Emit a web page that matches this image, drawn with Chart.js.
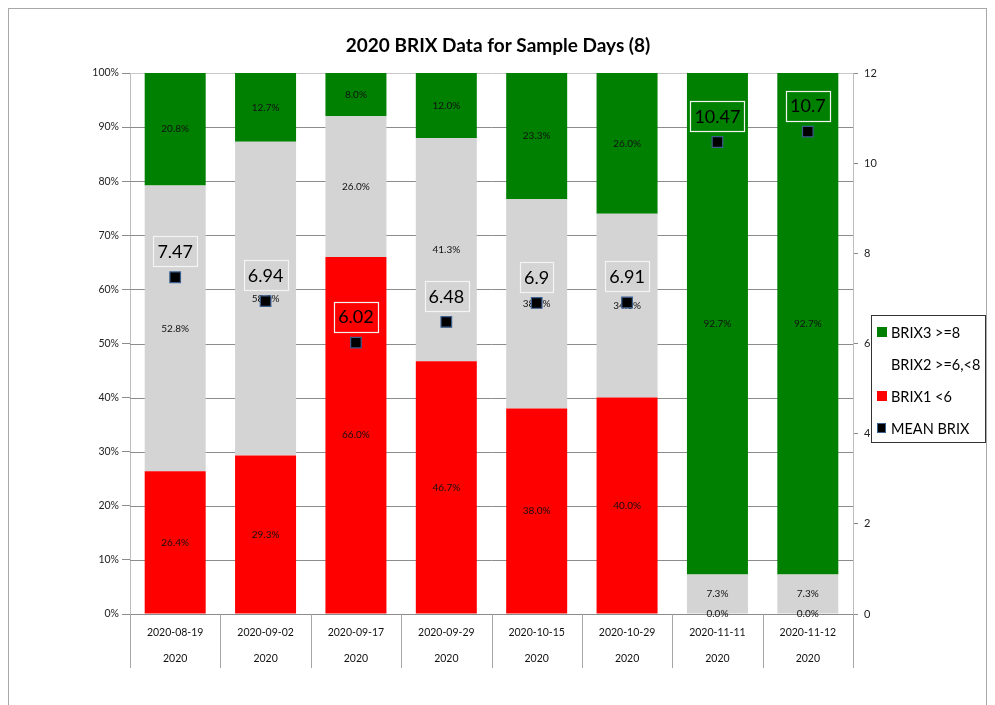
<!DOCTYPE html>
<html>
<head>
<meta charset="utf-8">
<script src="https://cdn.jsdelivr.net/npm/chart.js@4.4.1/dist/chart.umd.min.js"></script>
<style>
  html, body { margin: 0; padding: 0; background: #fff; overflow: hidden; }
  #wrap { position: relative; width: 995px; height: 705px; }
  #frame { position: absolute; left: 8px; top: 8px; width: 979px; height: 720px; border: 1px solid #a8a8a8; box-sizing: border-box; }
  canvas { position: absolute; left: 0; top: 0; }
</style>
</head>
<body>
<div id="wrap">
  <div id="frame"></div>
  <canvas id="myChart" width="995" height="705"></canvas>
</div>
<script>
/** Daten */
var categories = ['2020-08-19', '2020-09-02', '2020-09-17', '2020-09-29', '2020-10-15', '2020-10-29', '2020-11-11', '2020-11-12'];
var years = ['2020', '2020', '2020', '2020', '2020', '2020', '2020', '2020'];
var brix1 = [26.4, 29.3, 66.0, 46.7, 38.0, 40.0, 0.0, 0.0];
var brix2 = [52.8, 58.0, 26.0, 41.3, 38.7, 34.0, 7.3, 7.3];
var brix3 = [20.8, 12.7, 8.0, 12.0, 23.3, 26.0, 92.7, 92.7];
var meanBrix = [7.47, 6.94, 6.02, 6.48, 6.9, 6.91, 10.47, 10.7];
var titleText = '2020 BRIX Data for Sample Days (8)';

var FONT = "Lato, 'Open Sans', sans-serif";

/** Gitterlinien unter den Balken */
var gridUnder = {
  id: 'gridUnder',
  beforeDatasetsDraw: function(chart) {
    var ctx = chart.ctx;
    var y = chart.scales.y;
    var area = chart.chartArea;
    ctx.save();
    ctx.lineWidth = 1;
    y.ticks.forEach(function(t) {
      var py = Math.round(y.getPixelForValue(t.value)) + 0.5;
      ctx.strokeStyle = t.value === 100 ? '#c8c8c8' : '#8c8c8c';
      ctx.beginPath();
      ctx.moveTo(area.left, py);
      ctx.lineTo(area.right, py);
      ctx.stroke();
    });
    ctx.restore();
  }
};

/** Prozent-Beschriftungen in den Balken */
var segmentLabels = {
  id: 'segmentLabels',
  afterDatasetDraw: function(chart, args) {
    var ds = chart.data.datasets[args.index];
    if (ds.type === 'line') return;
    var ctx = chart.ctx;
    ctx.save();
    ctx.font = '10px ' + FONT;
    ctx.fillStyle = '#111';
    ctx.textAlign = 'center';
    ctx.textBaseline = 'middle';
    args.meta.data.forEach(function(bar, i) {
      var y = (bar.y + bar.base) / 2;
      ctx.fillText(ds.data[i].toFixed(1) + '%', bar.x, y);
    });
    ctx.restore();
  }
};

/** Titel, Mittelwert-Boxen, Achsenbeschriftung unten, Legende */
var extras = {
  id: 'extras',
  afterDraw: function(chart) {
    var ctx = chart.ctx;
    var x = chart.scales.x;
    var area = chart.chartArea;
    ctx.save();

    // Titel
    ctx.font = 'bold 19px ' + FONT;
    ctx.fillStyle = '#000';
    ctx.textAlign = 'center';
    ctx.textBaseline = 'middle';
    ctx.fillText(titleText, 498, 46);

    // Mittelwert-Boxen
    var meta = chart.getDatasetMeta(3);
    ctx.font = '18px ' + FONT;
    meta.data.forEach(function(pt, i) {
      var txt = String(meanBrix[i]);
      var w = ctx.measureText(txt).width + 8;
      var cy = pt.y - 26;
      ctx.strokeStyle = '#f4f4f4';
      ctx.lineWidth = 1.2;
      ctx.strokeRect(Math.round(pt.x - w / 2) + 0.5, Math.round(cy - 15) + 0.5, Math.round(w), 30);
      ctx.fillStyle = '#000';
      ctx.fillText(txt, pt.x, cy + 1);
    });

    // Kategorie-Trennlinien und zweizeilige Beschriftung
    var n = categories.length;
    var step = (x.right - x.left) / n;
    ctx.strokeStyle = '#a6a6a6';
    ctx.lineWidth = 1;
    for (var i = 0; i <= n; i++) {
      var lx = Math.round(x.left + i * step) + 0.5;
      ctx.beginPath();
      ctx.moveTo(lx, area.bottom);
      ctx.lineTo(lx, area.bottom + 54);
      ctx.stroke();
    }
    ctx.font = '10.5px ' + FONT;
    ctx.fillStyle = '#111';
    categories.forEach(function(c, i) {
      var cx = x.getPixelForValue(i);
      ctx.fillText(c, cx, area.bottom + 19);
      ctx.fillText(years[i], cx, area.bottom + 45);
    });

    // Legende
    var lx0 = 871, ly0 = 315, lw = 114, lh = 127;
    ctx.fillStyle = '#fff';
    ctx.fillRect(lx0, ly0, lw, lh);
    ctx.strokeStyle = '#333';
    ctx.lineWidth = 1;
    ctx.strokeRect(lx0 + 0.5, ly0 + 0.5, lw, lh);
    var items = [chart.data.datasets[2], chart.data.datasets[1], chart.data.datasets[0], chart.data.datasets[3]];
    ctx.font = '14.5px ' + FONT;
    ctx.textAlign = 'left';
    items.forEach(function(ds, k) {
      var iy = ly0 + 17 + k * 32;
      if (ds.type === 'line') {
        ctx.fillStyle = '#000';
        ctx.fillRect(877, iy - 5, 9, 10);
        ctx.strokeStyle = '#3b5f8f';
        ctx.strokeRect(877.5, iy - 4.5, 8, 9);
      } else if (ds.legendSwatch) {
        ctx.fillStyle = ds.legendSwatch;
        ctx.fillRect(877, iy - 5, 10, 10);
      }
      ctx.fillStyle = '#000';
      ctx.fillText(ds.label, 891, iy + 1);
    });

    ctx.restore();
  }
};

var ctx = document.getElementById('myChart').getContext('2d');
var myChart = new Chart(ctx, {
  type: 'bar',
  data: {
    labels: categories,
    datasets: [
      { label: 'BRIX1 <6', data: brix1, backgroundColor: '#ff0000', legendSwatch: '#ff0000', stack: 's', order: 1, yAxisID: 'y' },
      { label: 'BRIX2 >=6,<8', data: brix2, backgroundColor: '#d4d4d4', legendSwatch: null, stack: 's', order: 1, yAxisID: 'y' },
      { label: 'BRIX3 >=8', data: brix3, backgroundColor: '#008000', legendSwatch: '#008000', stack: 's', order: 1, yAxisID: 'y' },
      {
        type: 'line', label: 'MEAN BRIX', data: meanBrix, yAxisID: 'y1', order: 0,
        showLine: false, pointStyle: 'rect', pointRadius: 7.5, pointHoverRadius: 7.5,
        pointBackgroundColor: '#000', pointBorderColor: '#3b5f8f', pointBorderWidth: 1.2
      }
    ]
  },
  options: {
    responsive: false,
    animation: false,
    devicePixelRatio: 1,
    layout: { padding: { top: 73, left: 0, right: 0, bottom: 0 } },
    datasets: { bar: { barPercentage: 0.675, categoryPercentage: 1 } },
    plugins: {
      legend: { display: false },
      title: { display: false },
      tooltip: { enabled: false }
    },
    scales: {
      x: {
        stacked: true,
        ticks: { display: false },
        grid: { display: false },
        border: { display: true, color: '#8c8c8c' },
        afterFit: function(scale) { scale.height = 91; }
      },
      y: {
        position: 'left',
        stacked: true,
        min: 0, max: 100,
        ticks: {
          stepSize: 10, padding: 3, color: '#222',
          font: { size: 10.5, family: FONT },
          callback: function(v) { return v + '%'; }
        },
        grid: { drawOnChartArea: false, tickLength: 8, tickColor: '#8c8c8c' },
        border: { color: '#bdbdbd' },
        afterFit: function(scale) { scale.width = 130; }
      },
      y1: {
        position: 'right',
        min: 0, max: 12,
        ticks: { stepSize: 2, padding: 6, color: '#222', font: { size: 11, family: FONT } },
        grid: { drawOnChartArea: false, tickLength: 5, tickColor: '#8c8c8c' },
        border: { color: '#bdbdbd' },
        afterFit: function(scale) { scale.width = 142; }
      }
    }
  },
  plugins: [gridUnder, segmentLabels, extras]
});
</script>
</body>
</html>
